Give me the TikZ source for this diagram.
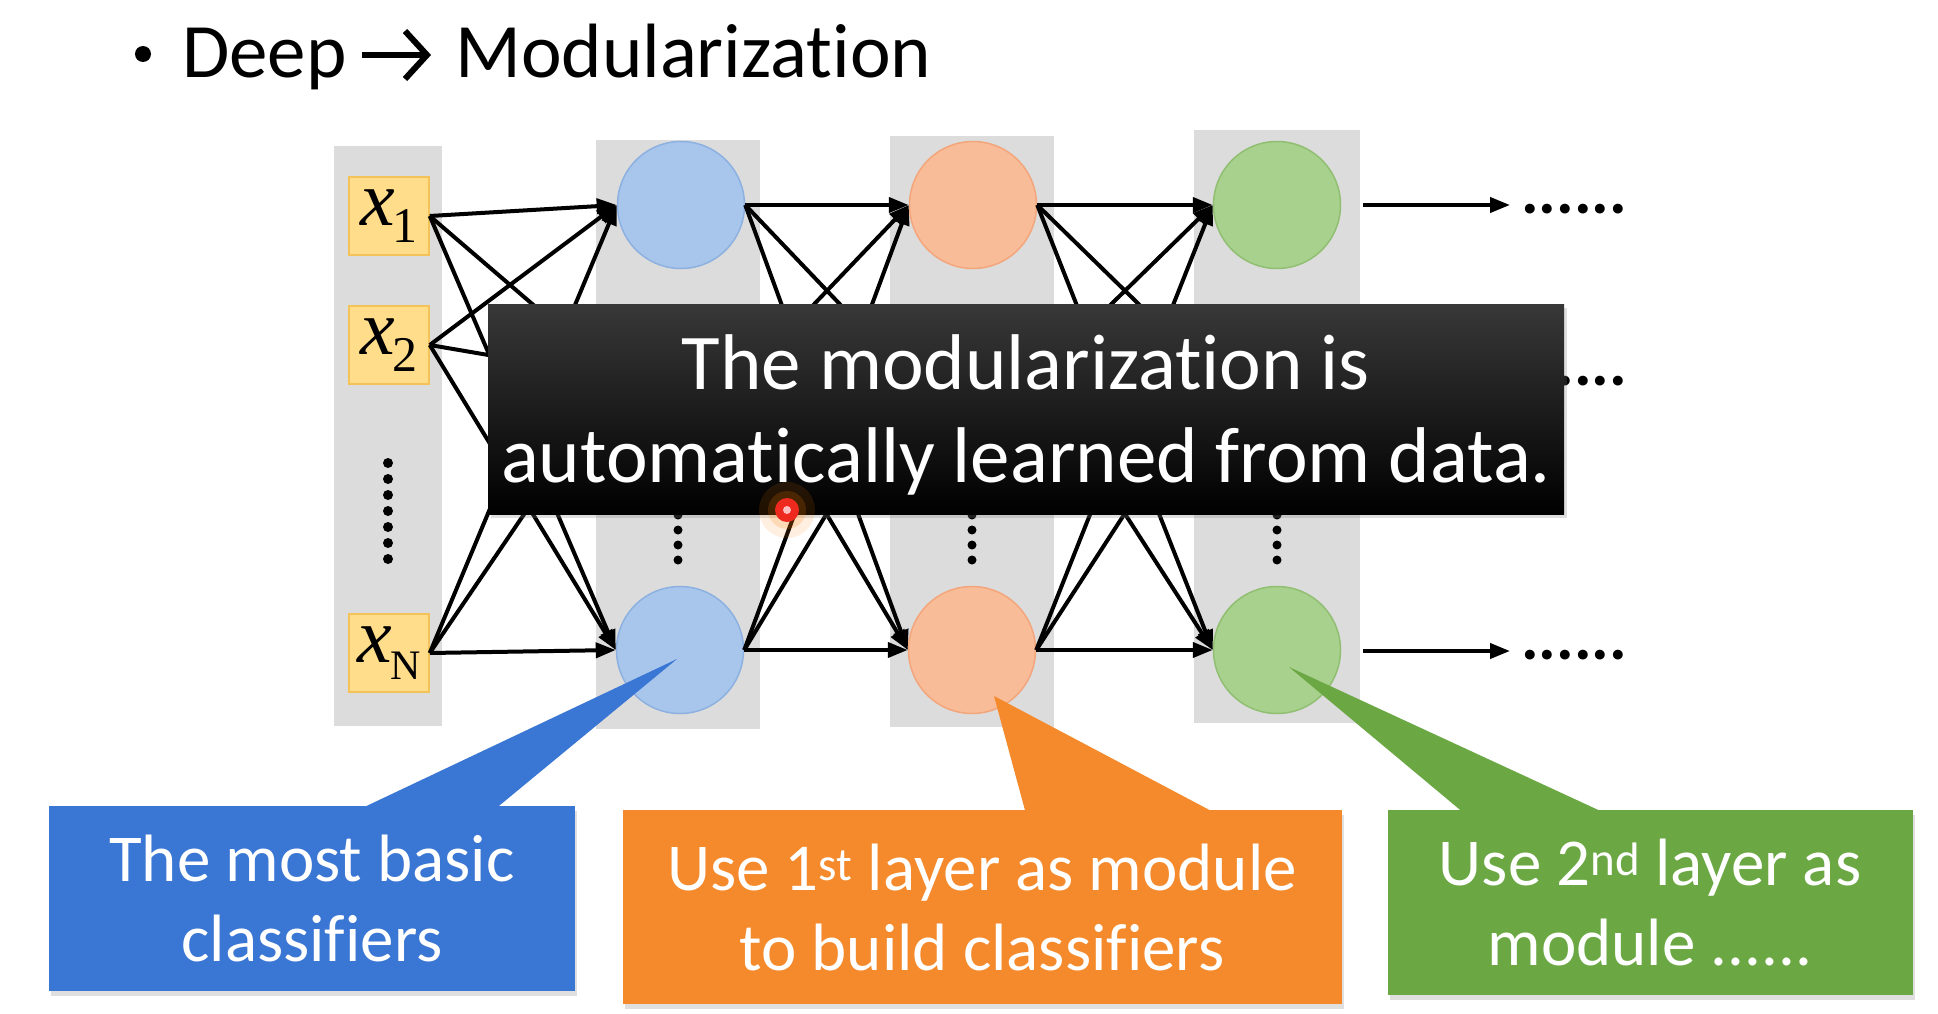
\documentclass[tikz,border=0pt]{standalone}
\usepackage{fontspec}
\setmainfont{Carlito}[Ligatures=NoCommon]
\newfontfamily\timesfont{Liberation Serif}
\usetikzlibrary{arrows.meta,shadows}

\definecolor{colgray}{HTML}{DCDCDC}
\definecolor{inpfill}{HTML}{FFDD8A}
\definecolor{inpdraw}{HTML}{F3C35A}
\definecolor{bluefill}{HTML}{A8C6EC}
\definecolor{bluedraw}{HTML}{8CB1E0}
\definecolor{orfill}{HTML}{F9BC98}
\definecolor{ordraw}{HTML}{F3A67C}
\definecolor{grfill}{HTML}{A9D18E}
\definecolor{grdraw}{HTML}{90BF72}
\definecolor{cblue}{HTML}{3A76D3}
\definecolor{corange}{HTML}{F58A2C}
\definecolor{cgreen}{HTML}{6BA843}
\definecolor{laser}{HTML}{EE2A1E}

\tikzset{
  column/.style={fill=colgray},
  inbox/.style={rectangle, fill=inpfill, draw=inpdraw, line width=1.5pt,
    minimum width=80pt, minimum height=78pt, inner sep=0pt},
  neuron/.style={circle, minimum size=127pt, line width=1.5pt, inner sep=0pt},
  hiddenneuron/.style={circle, minimum size=127pt, inner sep=0pt},
  wire/.style={line width=4pt, -{Triangle[length=20pt,width=15pt]}},
  vdot/.style={fill=black},
  outdots/.style={anchor=base west, inner sep=0pt, font=\bfseries\fontsize{66}{66}\selectfont},
  callout/.style={rectangle, text=white, align=center, inner sep=0pt,
    font=\fontsize{67}{80}\selectfont,
    drop shadow={shadow xshift=2pt, shadow yshift=-5pt, opacity=0.25}},
  notebox/.style={rectangle, top color=black!78, middle color=black, bottom color=black,
    inner sep=0pt, minimum width=1076pt, minimum height=210pt,
    drop shadow={shadow xshift=3pt, shadow yshift=-4pt, opacity=0.25}},
  notetext/.style={text=white, align=center, inner sep=0pt, font=\fontsize{79}{93}\selectfont},
}

\newcommand{\xlabel}[2]{{\timesfont\fontsize{78}{78}\selectfont\itshape x}\kern-2pt\raisebox{-17pt}{\timesfont\fontsize{#2}{#2}\selectfont #1}}

\begin{document}
\begin{tikzpicture}[x=1pt, y=-1pt]
  \useasboundingbox (0,0) rectangle (1938,1014);
  \fill[white] (0,0) rectangle (1938,1014);

  % title line
  \fill (143,54) circle (8pt);
  \node[anchor=base west, inner sep=0pt, font=\fontsize{77}{77}\selectfont] (deep) at (182,78) {Deep};
  \node[anchor=base west, inner sep=0pt, font=\fontsize{77}{77}\selectfont] (modul) at (455,78) {Modularization};
  \coordinate (ta) at (362,55);
  \coordinate (tb) at (427,55);
  \draw[line width=6pt] (ta) -- ([xshift=-4pt]tb);
  \draw[line width=6pt, line join=miter, line cap=butt] ([shift={(-22,-24)}]tb) -- (tb) -- ([shift={(-22,24)}]tb);

  % grey layer columns
  \fill[column] (334,146) rectangle (442,726);
  \fill[column] (596,140) rectangle (760,729);
  \fill[column] (890,136) rectangle (1054,727);
  \fill[column] (1194,130) rectangle (1360,723);

  % inputs
  \node[inbox] (i1) at (389,216) {\xlabel{1}{50}};
  \node[inbox] (i2) at (389,345) {\xlabel{2}{50}};
  \node[inbox] (iN) at (389,653) {\xlabel{N}{42}};
  \foreach \k in {0,...,6} \fill[vdot] (388,{463+16*\k}) circle (5pt);

  % neurons
  \node[neuron, fill=bluefill, draw=bluedraw] (n1t) at (681,205) {};
  \node[hiddenneuron] (n1m) at (681,377) {};
  \node[neuron, fill=bluefill, draw=bluedraw] (n1b) at (680,650) {};
  \node[neuron, fill=orfill, draw=ordraw] (n2t) at (973,205) {};
  \node[hiddenneuron] (n2m) at (973,377) {};
  \node[neuron, fill=orfill, draw=ordraw] (n2b) at (972,650) {};
  \node[neuron, fill=grfill, draw=grdraw] (n3t) at (1277,205) {};
  \node[hiddenneuron] (n3m) at (1277,377) {};
  \node[neuron, fill=grfill, draw=grdraw] (n3b) at (1277,650) {};
  \foreach \cx in {678,972,1277}
    \foreach \k in {0,...,3} \fill[vdot] (\cx,{515+15*\k}) circle (4.5pt);

  % connections
  \foreach \s in {i1,i2,iN}
    \foreach \t in {n1t,n1m,n1b} \draw[wire] (\s.east) -- (\t.west);
  \foreach \s in {n1t,n1m,n1b}
    \foreach \t in {n2t,n2m,n2b} \draw[wire] (\s.east) -- (\t.west);
  \foreach \s in {n2t,n2m,n2b}
    \foreach \t in {n3t,n3m,n3b} \draw[wire] (\s.east) -- (\t.west);

  % outputs
  \foreach \r/\yy in {t/205,m/377,b/651} {
    \coordinate (os\r) at (1363,\yy);
    \coordinate (oe\r) at (1510,\yy);
    \draw[wire] (os\r) -- (oe\r);
    \node[outdots] (od\r) at (1521,\yy+8) {......};
  }

  % caption box
  \node[notebox] (note) at (1026,409) {};
  \node[notetext] (notetxt) at (1026,415) {The modularization is\\automatically learned from data.};

  % pointer mark
  \fill[orange, opacity=0.12] (787,510) circle (28pt);
  \fill[orange, opacity=0.18] (787,510) circle (19pt);
  \fill[laser] (787,510) circle (12pt);
  \fill[red!25] (787,510) circle (4pt);

  % callouts
  \coordinate (tipB) at (677,659);
  \coordinate (tipO) at (994,696);
  \coordinate (tipG) at (1289,667);
  \node[callout, fill=cblue, minimum width=526pt, minimum height=185pt] (cb) at (312,898)
    {The most basic\\classifiers};
  \fill[cblue] (358,810) -- (tipB) -- (494,810) -- cycle;
  \node[callout, fill=corange, minimum width=719pt, minimum height=194pt] (co) at (982,907)
    {Use 1\textsuperscript{st} layer as module\\to build classifiers};
  \fill[corange] (1026,814) -- (tipO) -- (1217,814) -- cycle;
  \node[callout, fill=cgreen, minimum width=525pt, minimum height=185pt] (cg) at (1650,902)
    {Use 2\textsuperscript{nd} layer as\\module ......};
  \fill[cgreen] (1465,814) -- (tipG) -- (1607,814) -- cycle;
\end{tikzpicture}
\end{document}
